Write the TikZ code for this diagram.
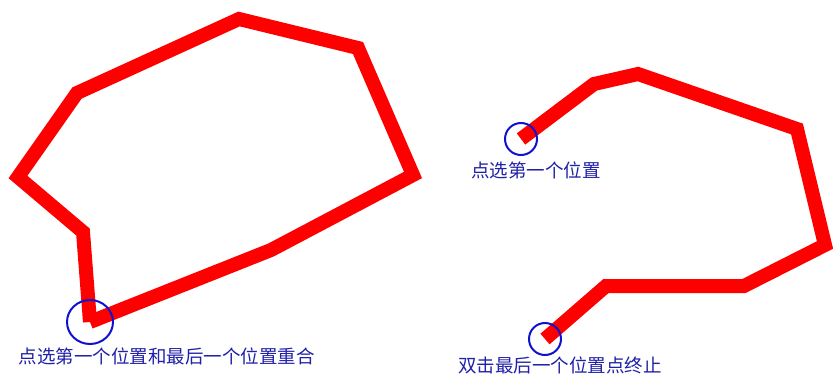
\documentclass[tikz,border=0pt]{standalone}
\usepackage{fontspec}
\usepackage{xcolor}
\newfontfamily\cjk{Noto Sans CJK SC}
\usetikzlibrary{positioning, calc}
\definecolor{pathred}{HTML}{FF0000}
\definecolor{markblue}{HTML}{1010D0}
\definecolor{labelblue}{HTML}{2020A8}
\tikzset{
  redpath/.style={
    draw=pathred,
    line width=14pt,
    line join=miter
  },
  pickmark/.style={
    draw=markblue,
    line width=2pt
  },
  steplabel/.style={
    text=labelblue,
    font=\cjk\fontsize{18.5}{20}\selectfont,
    inner sep=0pt
  }
}

\begin{document}
\begin{tikzpicture}[x=1pt, y=-1pt]
  \useasboundingbox (0,0) rectangle (833,377);

  % Closed outline
  \coordinate (a0) at (90,322);
  \coordinate (a1) at (83,232);
  \coordinate (a2) at (18,177);
  \coordinate (a3) at (77,93);
  \coordinate (a4) at (239,19);
  \coordinate (a5) at (358,48);
  \coordinate (a6) at (413,175);
  \coordinate (a7) at (271,250);
  \draw [redpath] (a0) -- (a1) -- (a2) -- (a3) -- (a4) -- (a5) -- (a6) -- (a7) -- (a0);

  % Open outline
  \coordinate (b0) at (521,139);
  \coordinate (b1) at (594,84);
  \coordinate (b2) at (638,74);
  \coordinate (b3) at (797,129);
  \coordinate (b4) at (825,245);
  \coordinate (b5) at (744,286);
  \coordinate (b6) at (606,286);
  \coordinate (b7) at (545,339);
  \draw [redpath] (b0) -- (b1) -- (b2) -- (b3) -- (b4) -- (b5) -- (b6) -- (b7);

  % Marks
  \draw [pickmark] (a0) circle [x radius=23, y radius=22];
  \draw [pickmark] (b0) circle [radius=16];
  \draw [pickmark] (b7) circle [radius=16];

  % Labels
  \node (closelabel) [steplabel] at (167,356) {点选第一个位置和最后一个位置重合};
  \node (firstlabel) [steplabel] at (536,170) {点选第一个位置};
  \node (endlabel) [steplabel] at (560,365) {双击最后一个位置点终止};

\end{tikzpicture}
\end{document}
